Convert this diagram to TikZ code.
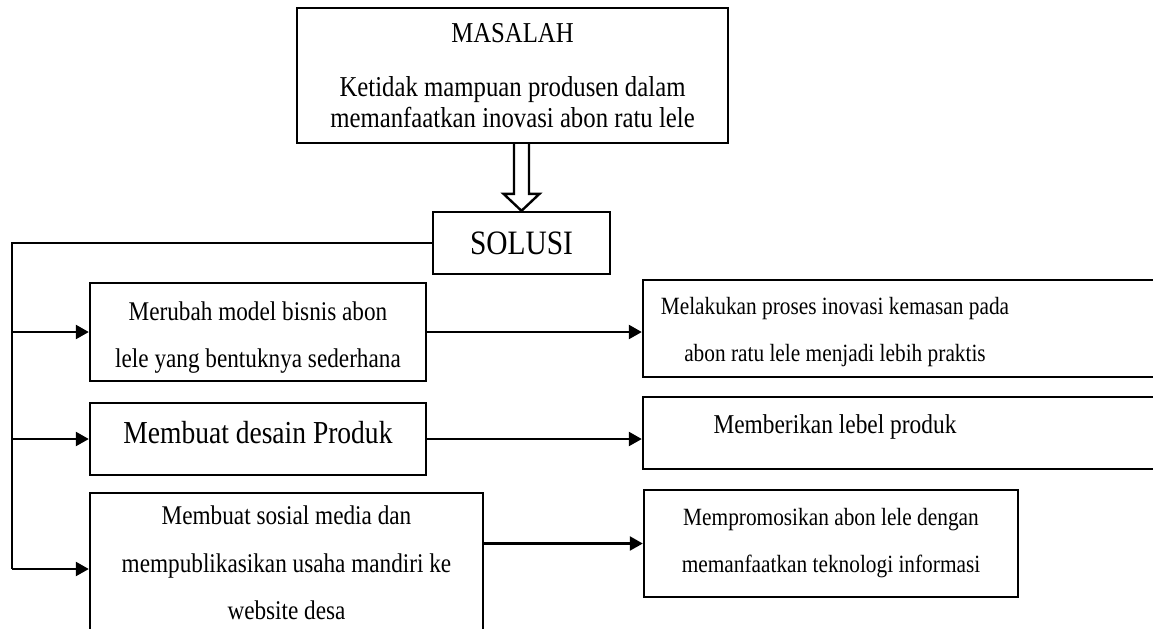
\documentclass[tikz,border=0pt]{standalone}
\usepackage{fontspec}
\setmainfont{Liberation Serif}[FakeStretch=0.86]
\usepackage{tikz}
\usetikzlibrary{arrows.meta,calc}
\newcommand{\fs}[2]{\fontsize{#1}{#2}\selectfont}
\newcommand{\padright}[1]{\begin{tabular}[t]{@{}c@{}}#1\end{tabular}\hbox to 71.5pt{}}

\begin{document}
\begin{tikzpicture}[x=0.5pt,y=-0.5pt,
  box/.style={draw,line width=1.2pt,inner sep=0pt,align=center},
  wide/.style={draw,line width=1.2pt,inner sep=0pt,minimum width=263.5pt},
  link/.style={line width=1.2pt,line join=miter},
  arr/.style={-{Triangle[length=6.5pt,width=7pt]},line width=1.2pt},
  hollow/.style={line width=1.2pt,line join=miter}
]
\useasboundingbox (0,0) rectangle (1153,628);
\clip (0,0) rectangle (1153,628);
\node[box,minimum width=215.5pt,minimum height=67.5pt,font=\fs{14.4}{15.5}] (masalah) at (512.5,75.5) {MASALAH\\[11.5pt]Ketidak mampuan produsen dalam\\memanfaatkan inovasi abon ratu lele};
\node[box,minimum width=88.5pt,minimum height=31pt,font=\fs{17.1}{19}] (solusi) at (521.5,243) {SOLUSI};
\node[box,minimum width=168pt,minimum height=49pt,text height=38pt,font=\fs{13.5}{23.5}] (ubah) at (258,332) {Merubah model bisnis abon\\lele yang bentuknya sederhana};
\node[box,minimum width=168pt,minimum height=36pt,text depth=7pt,font=\fs{16}{18}] (desain) at (258,439) {Membuat desain Produk};
\node[box,minimum width=196.5pt,minimum height=76pt,text depth=6.2pt,font=\fs{13.5}{23.75}] (sosmed) at (286.5,569) {Membuat sosial media dan\\mempublikasikan usaha mandiri ke\\website desa};
\node[wide,minimum height=48.5pt,font=\fs{12.4}{23.5}] (kemasan) at (906.5,328.5) {\padright{Melakukan proses inovasi kemasan pada\\abon ratu lele menjadi lebih praktis}};
\node[wide,minimum height=36pt,text depth=9.8pt,font=\fs{13.6}{14}] (lebel) at (906.5,433) {\padright{Memberikan lebel produk}};
\node[box,minimum width=187pt,minimum height=53.5pt,font=\fs{12.4}{23.5}] (promosi) at (831,543.5) {Mempromosikan abon lele dengan\\memanfaatkan teknologi informasi};
\coordinate (trunk) at (12,243);
% hollow arrow masalah -> solusi
\draw[hollow] ($(masalah.south -| solusi.north)+(-7.5,0)$) -- ($(solusi.north)+(-7.5,-17)$) -- ($(solusi.north)+(-18,-17)$) -- (solusi.north) -- ($(solusi.north)+(18,-17)$) -- ($(solusi.north)+(7.5,-17)$) -- ($(masalah.south -| solusi.north)+(7.5,0)$);
\draw[link] (solusi.west) -- (trunk) -- (trunk |- sosmed.west);
\draw[arr] (trunk |- ubah.west) -- (ubah.west);
\draw[arr] (trunk |- desain.west) -- (desain.west);
\draw[arr] (trunk |- sosmed.west) -- (sosmed.west);
\draw[arr] (ubah.east) -- (ubah.east -| kemasan.west);
\draw[arr] (desain.east) -- (desain.east -| lebel.west);
\draw[arr] (promosi.west -| sosmed.east) -- (promosi.west);
\end{tikzpicture}
\end{document}
